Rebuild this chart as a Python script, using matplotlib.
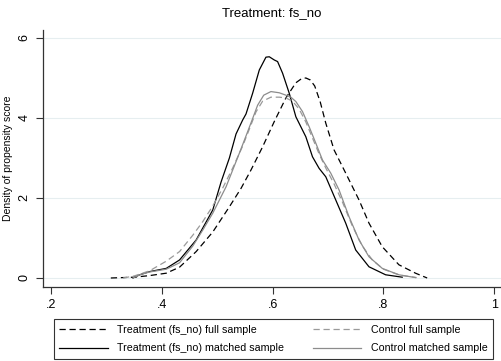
import matplotlib
matplotlib.use("Agg")
import matplotlib.pyplot as plt

plt.rcParams['font.family'] = ['Liberation Sans', 'DejaVu Sans']

# density curves (propensity score, density)
treat_full_x = [0.308, 0.35, 0.378, 0.408, 0.432, 0.462, 0.492, 0.522, 0.543, 0.561, 0.582,
                0.603, 0.624, 0.642, 0.652, 0.660, 0.668, 0.676, 0.686, 0.696, 0.711, 0.732,
                0.756, 0.774, 0.798, 0.828, 0.858, 0.879]
treat_full_y = [0.0, 0.02, 0.06, 0.12, 0.27, 0.66, 1.15, 1.78, 2.24, 2.7, 3.28,
                3.91, 4.5, 4.88, 4.98, 5.0, 4.95, 4.8, 4.4, 3.87, 3.2, 2.62,
                1.95, 1.37, 0.78, 0.33, 0.12, 0.0]

treat_match_x = [0.348, 0.36, 0.378, 0.408, 0.432, 0.462, 0.492, 0.507, 0.522, 0.534,
                 0.546, 0.552, 0.564, 0.576, 0.588, 0.594, 0.603, 0.609, 0.618, 0.630,
                 0.642, 0.660, 0.672, 0.684, 0.696, 0.714, 0.732, 0.750, 0.774, 0.804, 0.834]
treat_match_y = [0.0, 0.08, 0.16, 0.24, 0.45, 0.95, 1.7, 2.4, 3.0, 3.6,
                 3.95, 4.1, 4.62, 5.2, 5.52, 5.53, 5.45, 5.41, 5.12, 4.62,
                 4.03, 3.53, 3.03, 2.74, 2.53, 1.95, 1.37, 0.70, 0.28, 0.08, 0.02]

ctrl_full_x = [0.33, 0.35, 0.378, 0.408, 0.432, 0.456, 0.474, 0.492, 0.510, 0.528, 0.546,
               0.558, 0.570, 0.582, 0.597, 0.612, 0.624, 0.636, 0.648, 0.660, 0.672,
               0.684, 0.696, 0.711, 0.726, 0.744, 0.762, 0.780, 0.800, 0.830, 0.860]
ctrl_full_y = [0.0, 0.05, 0.18, 0.42, 0.66, 1.07, 1.41, 1.8, 2.25, 2.75, 3.3,
               3.72, 4.15, 4.42, 4.52, 4.52, 4.50, 4.42, 4.22, 3.9, 3.5,
               3.1, 2.75, 2.35, 1.9, 1.3, 0.8, 0.45, 0.22, 0.07, 0.01]

ctrl_match_x = [0.348, 0.36, 0.378, 0.408, 0.432, 0.456, 0.474, 0.492, 0.516, 0.540,
                0.552, 0.563, 0.573, 0.584, 0.597, 0.612, 0.624, 0.633, 0.642, 0.654, 0.666,
                0.678, 0.690, 0.705, 0.720, 0.738, 0.756, 0.774, 0.798, 0.828, 0.858]
ctrl_match_y = [0.0, 0.08, 0.15, 0.22, 0.38, 0.8, 1.2, 1.62, 2.28, 3.12,
                3.55, 3.95, 4.32, 4.57, 4.66, 4.63, 4.57, 4.52, 4.41, 4.16, 3.78,
                3.37, 2.95, 2.62, 2.2, 1.53, 0.95, 0.53, 0.24, 0.08, 0.01]

x_ticks = [0.2, 0.4, 0.6, 0.8, 1.0]
x_labels = [".2", ".4", ".6", ".8", "1"]
y_ticks = [0, 2, 4, 6]

fig = plt.figure(figsize=(5.02, 3.61), dpi=100)
ax = fig.add_axes([0.0857, 0.205, 0.912, 0.712])

ax.plot(treat_full_x, treat_full_y, color='black', lw=0.9, dashes=(5, 3),
        label='Treatment (fs_no) full sample')
ax.plot(treat_match_x, treat_match_y, color='black', lw=0.9,
        label='Treatment (fs_no) matched sample')
ax.plot(ctrl_full_x, ctrl_full_y, color='#9a9a9a', lw=0.9, dashes=(5, 3),
        label='Control full sample')
ax.plot(ctrl_match_x, ctrl_match_y, color='#8c8c8c', lw=0.9,
        label='Control matched sample')

ax.set_xlim(0.1856, 1.012)
ax.set_ylim(-0.225, 6.2)
ax.set_xticks(x_ticks)
ax.set_xticklabels(x_labels, fontsize=9)
ax.set_yticks(y_ticks)
ax.set_yticklabels([str(v) for v in y_ticks], fontsize=9, rotation=90, va='center')
ax.tick_params(direction='out', length=5, width=0.8, color='#333333', pad=4)
ax.grid(axis='y', color='#e6eef0', lw=0.8)
ax.set_axisbelow(True)
for s in ['top', 'right']:
    ax.spines[s].set_visible(False)
for s in ['left', 'bottom']:
    ax.spines[s].set_color('#333333')
    ax.spines[s].set_linewidth(0.9)

ax.set_ylabel("Density of propensity score", fontsize=7.5, labelpad=4)
ax.set_title("Treatment: fs_no", fontsize=9.5, pad=10)

leg = fig.legend(loc='center', bbox_to_anchor=(273.5 / 502, 1 - 339 / 361),
                 ncol=2, fontsize=7.7, frameon=True, fancybox=False,
                 edgecolor='black', handlelength=4.5, handletextpad=0.9,
                 columnspacing=2.7, borderaxespad=0, labelspacing=0.8, borderpad=0.55)
leg.get_frame().set_linewidth(0.8)

fig.savefig("out.png", dpi=100)
